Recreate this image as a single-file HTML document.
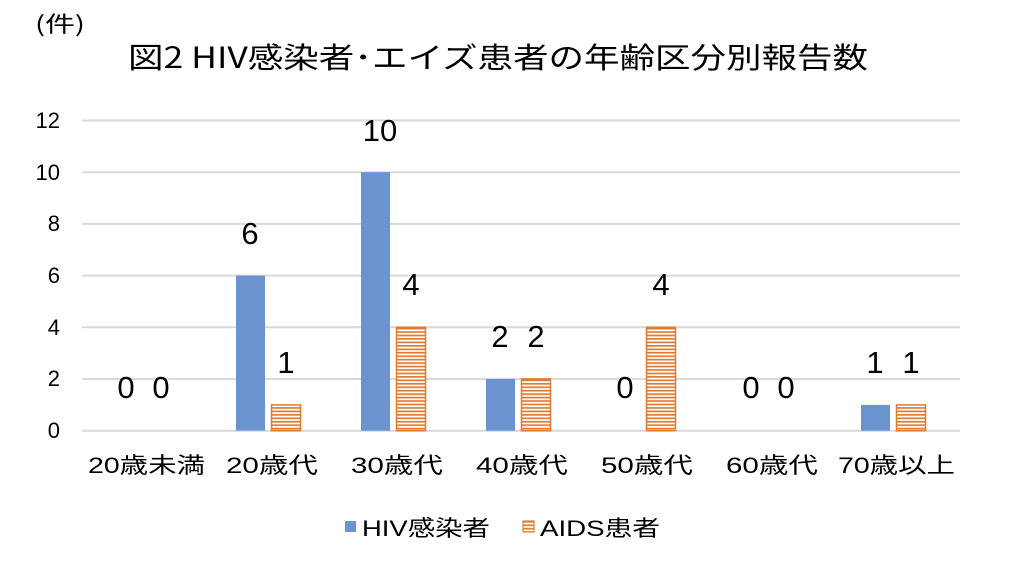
<!DOCTYPE html>
<html><head><meta charset="utf-8"><style>
html,body{margin:0;padding:0;background:#fff}
svg{display:block}
text{font-family:"Liberation Sans","Noto Sans CJK JP",sans-serif;fill:#000}
</style></head><body>
<svg width="1024" height="568" viewBox="0 0 1024 568" xmlns="http://www.w3.org/2000/svg">
<defs>
<pattern id="hs" width="6" height="3.45" patternUnits="userSpaceOnUse">
<rect width="6" height="3.45" fill="#fff"/>
<rect width="6" height="1.7" fill="#E07B30"/>
</pattern>
</defs>
<text x="35" y="32" font-size="22" textLength="50" lengthAdjust="spacingAndGlyphs" style="font-family:'Noto Sans CJK JP',sans-serif">(件)</text>
<text x="128" y="68" font-size="29" textLength="740" lengthAdjust="spacingAndGlyphs" style="font-family:'Noto Sans CJK JP',sans-serif">図2 HIV感染者･エイズ患者の年齢区分別報告数</text>
<g stroke="#d9d9d9" stroke-width="2">
<line x1="82" x2="960" y1="120.5" y2="120.5"/>
<line x1="82" x2="960" y1="172.2" y2="172.2"/>
<line x1="82" x2="960" y1="223.9" y2="223.9"/>
<line x1="82" x2="960" y1="275.6" y2="275.6"/>
<line x1="82" x2="960" y1="327.3" y2="327.3"/>
<line x1="82" x2="960" y1="379" y2="379"/>
<line x1="82" x2="960" y1="430.7" y2="430.7"/>
</g>
<g font-size="22" text-anchor="end">
<text x="60" y="128">12</text>
<text x="60" y="180">10</text>
<text x="60" y="231">8</text>
<text x="60" y="283">6</text>
<text x="60" y="335">4</text>
<text x="60" y="386">2</text>
<text x="60" y="438">0</text>
</g>
<g fill="#6A93CF">
<rect x="236" y="275.6" width="29" height="155"/>
<rect x="361" y="172.2" width="29" height="258.5"/>
<rect x="486" y="379" width="29" height="51.7"/>
<rect x="861" y="404.9" width="29" height="25.8"/>
</g>
<g fill="url(#hs)" stroke="#E07B30" stroke-width="1.5">
<rect x="271.5" y="404.9" width="29" height="25.8"/>
<rect x="396.5" y="327.3" width="29" height="103.4"/>
<rect x="521.5" y="379" width="29" height="51.7"/>
<rect x="646.5" y="327.3" width="29" height="103.4"/>
<rect x="896.5" y="404.9" width="29" height="25.8"/>
</g>
<g font-size="31" text-anchor="middle">
<text x="126" y="398">0</text><text x="161" y="398">0</text>
<text x="250" y="244">6</text><text x="286" y="373">1</text>
<text x="380" y="141">10</text><text x="411" y="295">4</text>
<text x="500" y="347">2</text><text x="536" y="347">2</text>
<text x="625" y="398">0</text><text x="661" y="295">4</text>
<text x="751" y="398">0</text><text x="786" y="398">0</text>
<text x="875" y="373">1</text><text x="911" y="373">1</text>
</g>
<g font-size="22" style="font-family:'Liberation Sans','Noto Sans CJK JP',sans-serif" lengthAdjust="spacingAndGlyphs">
<text x="88" y="473" textLength="117" lengthAdjust="spacingAndGlyphs">20歳未満</text>
<text x="226" y="473" textLength="92" lengthAdjust="spacingAndGlyphs">20歳代</text>
<text x="351" y="473" textLength="92" lengthAdjust="spacingAndGlyphs">30歳代</text>
<text x="476" y="473" textLength="92" lengthAdjust="spacingAndGlyphs">40歳代</text>
<text x="601" y="473" textLength="92" lengthAdjust="spacingAndGlyphs">50歳代</text>
<text x="726" y="473" textLength="92" lengthAdjust="spacingAndGlyphs">60歳代</text>
<text x="838" y="473" textLength="117" lengthAdjust="spacingAndGlyphs">70歳以上</text>
</g>
<rect x="345" y="521" width="11" height="11" fill="#6A93CF"/>
<text x="362" y="536" font-size="22" textLength="128" lengthAdjust="spacingAndGlyphs">HIV感染者</text>
<rect x="523" y="521" width="11" height="11" fill="url(#hs)" stroke="#E07B30" stroke-width="1.2"/>
<text x="540" y="536" font-size="22" textLength="120" lengthAdjust="spacingAndGlyphs">AIDS患者</text>
</svg>
</body></html>
